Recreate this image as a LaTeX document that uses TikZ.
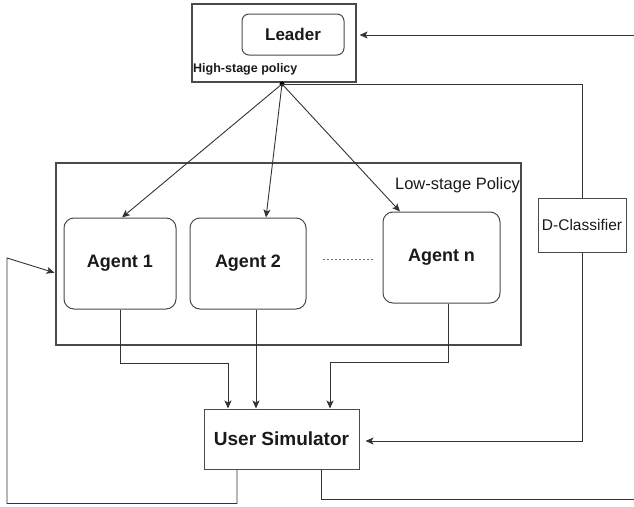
\documentclass[tikz,border=0pt]{standalone}
\usepackage{fontspec}
\setmainfont{Liberation Sans}
\usetikzlibrary{arrows.meta,positioning,calc}

\definecolor{linec}{HTML}{333333}
\definecolor{boxc}{HTML}{4A4A4A}
\definecolor{textc}{HTML}{1A1A1A}

\tikzset{
  frame/.style={draw=boxc, line width=1.2pt, inner sep=0pt},
  agentbox/.style={draw=boxc, line width=1pt, rounded corners=10pt, inner sep=0pt,
                   font=\fontsize{18}{20}\selectfont\bfseries, text=textc},
  plainbox/.style={draw=boxc, line width=1pt, inner sep=0pt, text=textc},
  link/.style={draw=linec, line width=0.9pt},
  arr/.style={link, -{Stealth[length=8pt,width=7pt,inset=2pt]}},
}

\begin{document}
\begin{tikzpicture}[x=1pt,y=-1pt]
\useasboundingbox (0,0) rectangle (634,506);

% high-stage container with the leader
\node[frame, minimum width=164pt, minimum height=78pt] (hs) at (274,43) {};
\node[agentbox, rounded corners=7pt, minimum width=102pt, minimum height=41pt,
      font=\fontsize{17}{19}\selectfont\bfseries] (leader) at (293,34.5) {Leader};
\node[anchor=west, inner sep=0pt, text=textc,
      font=\fontsize{12.5}{14}\selectfont\bfseries] (hstext) at (193,69) {High-stage policy};
\node[circle, fill=black, inner sep=0pt, minimum size=5pt] (dot) at (282,84) {};

% low-stage container with the agents
\node[frame, minimum width=465pt, minimum height=182pt] (ls) at (288.5,254) {};
\node[anchor=east, inner sep=0pt, text=textc,
      font=\fontsize{16.5}{18}\selectfont] (lstext) at (520,185) {Low-stage Policy};
\node[agentbox, minimum width=112pt, minimum height=91pt] (a1) at (120,263.5) {Agent 1};
\node[agentbox, minimum width=116pt, minimum height=91pt] (a2) at (248,263.5) {Agent 2};
\node[agentbox, minimum width=117pt, minimum height=91pt] (an) at (441.5,257.5) {Agent n};
\draw[linec!70, line width=0.9pt, dash pattern=on 2pt off 2pt] (323,259) -- (374,259);

% classifier and simulator
\node[plainbox, minimum width=88pt, minimum height=54pt,
      font=\fontsize{15.5}{17}\selectfont] (dc) at (582,225) {D-Classifier};
\node[plainbox, minimum width=155pt, minimum height=60pt,
      font=\fontsize{19}{21}\selectfont\bfseries] (us) at (281.5,439) {User Simulator};

% free ends at the right border
\coordinate (rin) at (634,35);
\coordinate (rout) at (634,499);

% leader to agents
\draw[arr] (dot.center) -- ([xshift=2pt]a1.north);
\draw[arr] (dot.center) -- ([xshift=18pt]a2.north);
\draw[arr] (dot.center) -- ([xshift=-41.5pt]an.north);

% feedback into the leader
\draw[arr, shorten >=3pt] (rin) -- (hs.east |- rin);

% leader to classifier, classifier to simulator
\draw[link] (dot.center) -| (dc.north);
\draw[arr, shorten >=6pt] (dc.south) |- ([yshift=-2pt]us.east);

% agents to simulator
\draw[arr] (a1.south) -- ++(0,54) -| ([xshift=-53.5pt]us.north);
\draw[arr] ([xshift=8pt]a2.south) -- ([xshift=-25.5pt]us.north);
\draw[arr] ([xshift=6.5pt]an.south) -- ++(0,59) -| ([xshift=48.5pt]us.north);

% simulator outputs
\draw[arr, shorten >=1pt] ([xshift=-44.5pt]us.south) -- ++(0,34) -| (7,258) -- ([yshift=-19pt]ls.west);
\draw[link] ([xshift=39.5pt]us.south) |- (rout);
\end{tikzpicture}
\end{document}
